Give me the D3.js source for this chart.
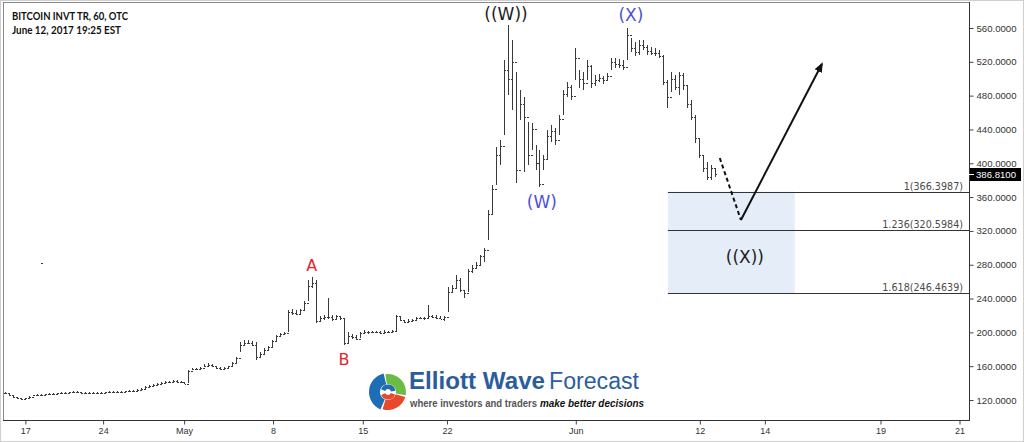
<!DOCTYPE html>
<html><head><meta charset="utf-8">
<script src="https://cdn.jsdelivr.net/npm/d3@7"></script>
<style>
html,body{margin:0;padding:0;background:#fff;}
svg{display:block;}
</style></head>
<body>
<svg id="chart" width="1024" height="442"></svg>
<script>
// ---------- DATA ----------
const titleLines = ["BITCOIN INVT TR, 60, OTC", "June 12, 2017 19:25 EST"];

// hourly OHLC bars (open = previous close)
const barHigh = [
129.5,127.1,124.7,123.5,122.4,122.6,124.7,126.5,127.1,126.8,
127.5,128.1,128.0,128.6,129.2,129.0,129.8,130.4,130.2,129.6,
129.3,129.2,129.5,129.1,129.4,129.9,130.4,130.6,130.3,130.5,
131.2,131.8,131.6,133.0,134.2,136.0,137.7,139.0,140.1,141.4,
142.5,142.8,143.7,143.2,142.6,141.3,
155.5,158.3,158.0,159.0,162.0,163.5,162.0,160.5,159.5,159.0,
160.5,165.0,170.5,188.6,190.5,191.0,190.0,188.6,177.0,181.0,
184.0,191.0,197.0,199.5,201.0,226.4,227.5,226.0,228.0,237.0,
261.9,265.5,262.0,219.0,220.5,240.6,220.0,220.5,219.5,215.5,
200.0,198.5,197.0,200.5,202.5,202.0,202.2,202.0,201.8,202.4,
202.2,203.0,221.0,219.0,215.0,215.5,216.0,218.5,218.2,218.5,
232.5,221.0,220.0,219.0,219.5,
253.5,256.0,267.5,264.5,250.0,274.5,279.5,283.0,292.0,300.0,
344.7,374.3,419.3,427.5,522.1,563.5,545.8,508.0,486.7,478.4,
448.8,447.6,421.6,415.7,409.8,439.3,445.2,441.7,457.1,486.7,
496.1,492.6,536.3,510.3,508.0,522.1,516.2,504.4,505.6,503.2,
506.8,524.5,524.5,523.3,522.1,560.0,548.2,543.4,545.8,545.8,
539.9,537.5,536.3,534.0,528.0,498.5,508.0,504.4,508.0,506.8,
492.6,474.8,457.1,429.9,409.8,401.5,397.9,394.4];
const barLow = [
127.1,124.7,122.4,121.2,120.5,120.6,122.4,124.2,124.7,124.9,
125.3,125.9,126.1,126.4,127.1,127.4,127.7,128.2,128.5,127.6,
127.1,127.3,127.5,127.2,127.4,127.9,128.4,128.5,128.3,128.6,
129.0,129.6,129.8,130.8,131.8,133.4,135.2,136.2,137.2,138.4,
139.8,139.9,140.9,140.5,139.6,138.6,
140.1,155.0,155.3,156.2,158.5,159.5,159.0,157.0,156.0,156.5,
157.5,159.5,163.5,176.8,185.5,186.5,183.5,167.3,170.5,173.5,
178.0,182.0,189.0,195.0,197.5,200.5,221.0,220.5,221.0,226.0,
237.0,252.0,211.1,212.0,215.0,215.5,214.0,215.5,214.5,185.0,
187.0,192.0,190.5,193.5,197.5,198.5,199.0,198.8,198.5,199.2,
199.0,199.0,201.0,213.5,211.0,212.0,212.5,215.0,215.5,215.2,
216.0,216.5,216.0,215.5,214.0,
224.0,247.0,252.0,247.5,240.5,248.0,270.0,275.0,280.0,283.0,
309.2,338.8,374.3,397.9,433.4,480.7,463.0,376.6,451.2,389.7,
397.9,415.7,392.0,371.9,392.0,403.9,425.2,421.6,433.4,457.1,
478.4,474.8,498.5,489.0,486.7,498.5,489.0,491.4,496.1,493.8,
497.3,510.3,512.7,512.7,510.3,522.1,531.6,526.9,528.0,534.0,
528.0,528.0,526.9,524.5,492.6,465.4,484.3,486.7,480.7,486.7,
465.4,451.2,424.0,406.2,389.7,380.2,380.2,383.7];
const barClose = [
128.3,125.9,123.5,122.4,121.2,121.8,123.9,125.5,126.0,125.6,
126.6,127.0,127.3,127.8,128.3,128.2,129.0,129.5,129.3,128.8,
128.1,128.4,128.6,128.0,128.5,129.0,129.6,129.4,129.7,129.9,
130.2,130.8,130.5,132.2,133.4,135.1,136.4,138.1,139.0,140.3,
141.6,140.8,142.9,141.5,140.7,139.5,
154.0,156.6,156.5,158.0,160.5,161.5,160.0,158.0,157.2,158.2,
159.8,164.0,169.5,185.0,188.0,187.5,185.0,171.0,174.0,179.5,
182.5,189.5,195.5,197.5,199.5,224.0,223.0,222.0,227.0,235.0,
255.0,258.0,214.0,217.5,218.0,218.5,216.0,219.0,216.5,188.0,
196.0,194.0,192.5,199.0,200.5,200.0,201.0,200.2,199.5,200.8,
200.5,201.5,219.5,215.0,212.5,213.5,214.8,217.0,216.5,217.2,
219.0,218.5,217.5,216.0,218.0,
248.0,253.0,262.0,250.0,246.0,272.0,276.0,280.0,290.0,298.0,
340.0,370.0,410.0,420.0,510.0,500.0,520.0,392.0,470.0,455.0,
410.0,440.0,400.0,375.0,405.0,432.0,438.0,428.0,452.0,482.0,
490.0,480.0,525.0,500.0,495.0,515.0,495.0,498.0,501.0,499.0,
503.0,520.0,518.0,516.0,514.0,552.0,536.0,532.0,540.0,538.0,
533.0,531.0,530.0,527.0,496.0,478.0,500.0,490.0,505.0,492.0,
470.0,455.0,430.0,410.0,395.0,384.0,394.0,386.81];
const lastPrice = 386.81;

// stray print
const strayIndex = [9];
const strayPrice = [282];

// axes
const yTicks = [120,160,200,240,280,320,360,400,440,480,520,560];
const xTickLabels = ["17","24","May","8","15","22","Jun","12","14","19","21"];
const xTickIndex  = [5.1,24.6,44.9,67.2,89.7,110.8,143.1,174.2,190.5,219.5,239.3];

// Fibonacci extension zone
const fibRatios = ["1","1.236","1.618"];
const fibPrices = [366.3987,320.5984,246.4639];
const fibStartIndex = 166.2;
const fibBoxEndIndex = 198.0;

// wave labels
const waveText  = ["A","B","((W))","(W)","(X)","((X))"];
const waveIndex = [76.9,85.0,125.6,134.6,156.9,185.5];
const wavePrice = [272.6,161.4,570.0,347.1,568.2,282.0];
const waveColor = ["#e8232b","#e8232b","#1e1e1e","#5151d8","#5151d8","#1e1e1e"];
const waveSize  = [16,16,17,17,17,17];

// projected path
const dashIndex = [179.2,184.5];
const dashPrice = [406.2,332.9];
const arrowIndex = [184.5,204.8];
const arrowPrice = [332.9,517.4];

// ---------- CHART ----------
const svg = d3.select("#chart");
const W = 1024, H = 442;
const plotL = 3, plotT = 2, plotR = 969, plotB = 420;

svg.append("rect").attr("x",0.5).attr("y",0.5).attr("width",W-1).attr("height",H-1)
  .attr("fill","#fff").attr("stroke","#cfcfcf");

const N = barHigh.length;
const x = d3.scaleLinear().domain([0, N-1]).range([5, 715]);
const y = d3.scaleLinear().domain([120, 560]).range([400, 28]);

// fib box & lines
const fibG = svg.append("g");
fibG.append("rect")
  .attr("x", x(fibStartIndex)).attr("y", y(fibPrices[0]))
  .attr("width", x(fibBoxEndIndex)-x(fibStartIndex))
  .attr("height", y(fibPrices[2])-y(fibPrices[0]))
  .attr("fill","#e4edf8");
fibPrices.forEach((p,k)=>{
  const yy = Math.round(y(p))+0.5;
  fibG.append("line").attr("x1",x(fibStartIndex)).attr("x2",plotR)
    .attr("y1",yy).attr("y2",yy).attr("stroke","#333").attr("stroke-width",1);
  fibG.append("text").attr("x",plotR-6).attr("y",yy-3)
    .attr("text-anchor","end").attr("font-family","DejaVu Sans, Verdana, sans-serif")
    .attr("font-size",9.6).attr("fill","#4a4a4a")
    .text(`${fibRatios[k]}(${p.toFixed(4)})`);
});

// bars
const barsG = svg.append("g").attr("stroke","#3a3a3a").attr("stroke-width",1).attr("shape-rendering","crispEdges");
for (let i=0;i<N;i++){
  const xi = Math.round(x(i))+0.5;
  const open = i===0 ? barClose[0] : barClose[i-1];
  let yh = y(barHigh[i]), yl = y(barLow[i]);
  if (yl - yh < 1) { yl = yh + 1; }
  barsG.append("line").attr("x1",xi).attr("x2",xi).attr("y1",yh).attr("y2",yl);
  const yo = Math.round(y(open))+0.5, yc = Math.round(y(barClose[i]))+0.5;
  barsG.append("line").attr("x1",xi-1.5).attr("x2",xi).attr("y1",yo).attr("y2",yo);
  barsG.append("line").attr("x1",xi).attr("x2",xi+1.5).attr("y1",yc).attr("y2",yc);
}
strayIndex.forEach((si,k)=>{
  barsG.append("rect").attr("x",Math.round(x(si))).attr("y",Math.round(y(strayPrice[k])))
    .attr("width",2).attr("height",1).attr("fill","#3a3a3a").attr("stroke","none");
});

// projection lines
svg.append("defs").append("marker").attr("id","ah")
  .attr("viewBox","0 0 10 10").attr("refX",8).attr("refY",5)
  .attr("markerWidth",10).attr("markerHeight",10).attr("markerUnits","userSpaceOnUse")
  .attr("orient","auto").append("path").attr("d","M0,1 L10,5 L0,9 Z").attr("fill","#111");
const ln = d3.line().x(d=>x(d[0])).y(d=>y(d[1]));
svg.append("path").attr("d", ln(dashIndex.map((v,k)=>[v,dashPrice[k]])))
  .attr("fill","none").attr("stroke","#111").attr("stroke-width",2).attr("stroke-dasharray","4,3");
svg.append("path").attr("d", ln(arrowIndex.map((v,k)=>[v,arrowPrice[k]])))
  .attr("fill","none").attr("stroke","#111").attr("stroke-width",2).attr("marker-end","url(#ah)");

// wave labels
waveText.forEach((t,k)=>{
  svg.append("text").attr("x",x(waveIndex[k])).attr("y",y(wavePrice[k]))
    .attr("text-anchor","middle").attr("font-family","DejaVu Sans, Verdana, sans-serif")
    .attr("font-size",waveSize[k]).attr("fill",waveColor[k]).text(t);
});

// frame
svg.append("line").attr("x1",plotL+0.5).attr("x2",plotL+0.5).attr("y1",plotT).attr("y2",plotB)
  .attr("stroke","#8a8a8a");
svg.append("line").attr("x1",plotL).attr("x2",plotR).attr("y1",plotT+0.5).attr("y2",plotT+0.5)
  .attr("stroke","#8a8a8a");

// y axis (right)
const yAxis = d3.axisRight(y).tickValues(yTicks).tickFormat(d3.format(".4f")).tickSize(4).tickPadding(3);
const yG = svg.append("g").attr("transform",`translate(${plotR+0.5},0)`).call(yAxis);
yG.select(".domain").remove();
yG.selectAll(".tick line").attr("stroke","#444");
yG.selectAll("text").attr("font-family","Liberation Sans, Arial, sans-serif").attr("font-size",9.6).attr("fill","#333");
svg.append("line").attr("x1",plotR+0.5).attr("x2",plotR+0.5).attr("y1",plotT).attr("y2",plotB+0.5)
  .attr("stroke","#333");

// last price tag
const lpY = y(lastPrice);
svg.append("rect").attr("x",plotR+1).attr("y",Math.round(lpY-6.5)).attr("width",51).attr("height",13).attr("fill","#000");
svg.append("line").attr("x1",plotR).attr("x2",plotR+5).attr("y1",Math.round(lpY)+0.5).attr("y2",Math.round(lpY)+0.5).attr("stroke","#fff");
svg.append("text").attr("x",plotR+7).attr("y",lpY).attr("dy","0.34em")
  .attr("font-family","Liberation Sans, Arial, sans-serif").attr("font-size",9.6).attr("fill","#fff")
  .text(d3.format(".4f")(lastPrice));

// x axis
const xAxis = d3.axisBottom(x).tickValues(xTickIndex).tickFormat((d,i)=>xTickLabels[i]).tickSize(4).tickPadding(3);
const xG = svg.append("g").attr("transform",`translate(0,${plotB+0.5})`).call(xAxis);
xG.select(".domain").remove();
xG.selectAll(".tick line").attr("stroke","#444");
xG.selectAll("text").attr("font-family","Liberation Sans, Arial, sans-serif").attr("font-size",9).attr("fill","#333");
svg.append("line").attr("x1",plotL).attr("x2",plotR+1).attr("y1",plotB+0.5).attr("y2",plotB+0.5).attr("stroke","#333");

// title
svg.append("text").attr("x",12).attr("y",20).attr("font-family","Lato, Open Sans, sans-serif")
  .attr("font-weight",700).attr("font-size",10.5).attr("fill","#111")
  .attr("textLength",116).attr("lengthAdjust","spacingAndGlyphs").text(titleLines[0]);
svg.append("text").attr("x",12).attr("y",34).attr("font-family","Lato, Open Sans, sans-serif")
  .attr("font-weight",700).attr("font-size",10.5).attr("fill","#111")
  .attr("textLength",109).attr("lengthAdjust","spacingAndGlyphs").text(titleLines[1]);

// logo
const logo = svg.append("g").attr("transform","translate(388,392)");
const arc = d3.arc();
const swirl = [
  {s: 3.55, e: 6.05, c:"#1f6db5", ri:8, ro:19},
  {s: -0.15, e: 1.75, c:"#6cbb45", ri:8, ro:18},
  {s: 1.85, e: 3.45, c:"#e8492d", ri:8, ro:18}
];
swirl.forEach(s=>{
  logo.append("path").attr("d",arc({innerRadius:s.ri,outerRadius:s.ro,startAngle:s.s,endAngle:s.e}))
    .attr("fill",s.c);
});
logo.append("path").attr("d",arc({innerRadius:3,outerRadius:7.5,startAngle:-1.2,endAngle:1.4})).attr("fill","#1f6db5");
logo.append("path").attr("d",arc({innerRadius:3,outerRadius:7.5,startAngle:1.9,endAngle:4.3})).attr("fill","#e8492d");

const lt = svg.append("text").attr("x",409).attr("y",389).attr("font-family","Liberation Sans, Arial, sans-serif")
  .attr("font-size",23).attr("fill","#2b5d9c");
lt.append("tspan").attr("font-weight",700).attr("textLength",136).attr("lengthAdjust","spacingAndGlyphs").text("Elliott Wave");
svg.append("text").attr("x",549).attr("y",389).attr("font-family","Liberation Sans, Arial, sans-serif")
  .attr("font-size",23).attr("fill","#2b5d9c").attr("textLength",90).attr("lengthAdjust","spacingAndGlyphs").text("Forecast");
svg.append("text").attr("x",410).attr("y",407).attr("font-family","Liberation Sans, Arial, sans-serif")
  .attr("font-size",10).attr("font-weight",700).attr("fill","#555")
  .attr("textLength",127).attr("lengthAdjust","spacingAndGlyphs").text("where investors and traders");
svg.append("text").attr("x",540).attr("y",407).attr("font-family","Liberation Sans, Arial, sans-serif")
  .attr("font-size",10).attr("font-weight",700).attr("font-style","italic").attr("fill","#111")
  .attr("textLength",104).attr("lengthAdjust","spacingAndGlyphs").text("make better decisions");
</script>
</body></html>
